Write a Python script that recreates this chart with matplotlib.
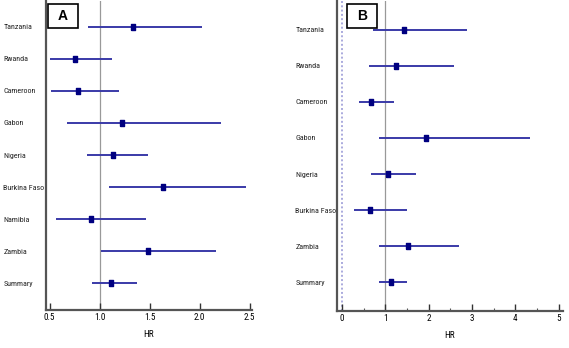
import matplotlib
matplotlib.use("Agg")
import matplotlib.pyplot as plt
from matplotlib.patches import Rectangle

plt.rcParams['font.family'] = ['Roboto Condensed', 'DejaVu Sans']

# panel A: hazard ratios with 95% CI
countries_a = ["Tanzania", "Rwanda", "Cameroon", "Gabon", "Nigeria",
               "Burkina Faso", "Namibia", "Zambia", "Summary"]
hr_a = [1.33, 0.75, 0.78, 1.22, 1.135, 1.63, 0.91, 1.48, 1.115]
lo_a = [0.88, 0.505, 0.515, 0.675, 0.87, 1.09, 0.565, 1.015, 0.92]
hi_a = [2.03, 1.12, 1.19, 2.21, 1.485, 2.46, 1.465, 2.16, 1.37]
ticks_a = [0.5, 1.0, 1.5, 2.0, 2.5]

# panel B
countries_b = ["Tanzania", "Rwanda", "Cameroon", "Gabon", "Nigeria",
               "Burkina Faso", "Zambia", "Summary"]
hr_b = [1.44, 1.25, 0.67, 1.93, 1.07, 0.64, 1.52, 1.125]
lo_b = [0.72, 0.615, 0.385, 0.86, 0.68, 0.27, 0.855, 0.85]
hi_b = [2.88, 2.59, 1.19, 4.35, 1.71, 1.50, 2.71, 1.49]
ticks_b = [0, 1, 2, 3, 4, 5]

W, H = 569, 348
fig = plt.figure(figsize=(W / 100, H / 100), dpi=100)

line_col = "#3a3aa8"
mark_col = "#000080"
spine_col = "#555555"
box_marker = [(-0.32, -0.5), (0.32, -0.5), (0.32, 0.5), (-0.32, 0.5), (-0.32, -0.5)]


def forest(rect, names, hr, lo, hi, ticks, xlim, ylim, pad_pt, minor=None):
    ax = fig.add_axes(rect)
    n = len(names)
    ys = list(range(n - 1, -1, -1))
    for y, h, l, u in zip(ys, hr, lo, hi):
        ax.plot([l, u], [y, y], color=line_col, lw=1.4, solid_capstyle="butt", zorder=3)
        ax.plot([h], [y], marker=box_marker, ms=4.6, color=mark_col, mec=mark_col, zorder=4)
    ax.axvline(1, color="#999999", lw=0.9, zorder=1)
    ax.set_xlim(*xlim)
    ax.set_ylim(*ylim)
    ax.set_xticks(ticks)
    ax.set_xticklabels([str(t) for t in ticks], fontsize=6.6)
    if minor is not None:
        ax.set_xticks(minor, minor=True)
        ax.tick_params(axis="x", which="minor", direction="in", length=2.5, width=0.8, color=spine_col)
    ax.set_yticks(ys)
    ax.set_yticklabels(names, fontsize=5.8, ha="left", color="#222222")
    ax.tick_params(axis="y", length=0, pad=pad_pt)
    ax.tick_params(axis="x", which="major", direction="in", length=5, width=1, color="#333333", pad=2)
    for s in ("top", "right"):
        ax.spines[s].set_visible(False)
    for s in ("left", "bottom"):
        ax.spines[s].set_color(spine_col)
        ax.spines[s].set_linewidth(1.6)
    ax.set_xlabel("HR", fontsize=6.6, labelpad=6)
    return ax


ax_a = forest([46 / W, 1 - 310 / H, (252 - 46) / W, 309 / H],
              countries_a, hr_a, lo_a, hi_a, ticks_a,
              (0.465, 2.525), (-0.83, 8.80), 30.6)

ax_b = forest([337 / W, 1 - 311 / H, (563 - 337) / W, 310 / H],
              countries_b, hr_b, lo_b, hi_b, ticks_b,
              (-0.115, 5.1), (-0.795, 7.795), 30.0,
              minor=[0.5, 1.5, 2.5, 3.5, 4.5])
ax_b.axvline(0, color="#aaaadd", lw=1.4, ls=(0, (1, 1.2)), zorder=1)

# panel letters in boxes
for x0, letter in [(48, "A"), (347, "B")]:
    fig.add_artist(Rectangle((x0 / W, 1 - 28 / H), 30 / W, 24 / H,
                             transform=fig.transFigure, fill=False,
                             edgecolor="black", lw=1.2))
    fig.text((x0 + 15) / W, 1 - 16 / H, letter, ha="center", va="center",
             fontsize=10, fontweight="bold", family=["Liberation Sans", "DejaVu Sans"])

fig.savefig("out.png", dpi=100)
